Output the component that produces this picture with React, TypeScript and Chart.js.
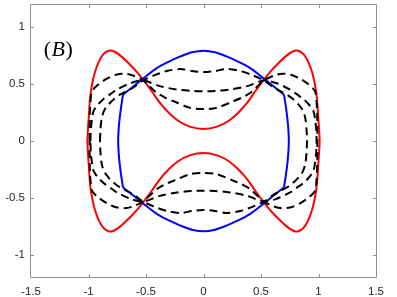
import { useEffect, useRef } from 'react';
import { Chart, registerables } from 'chart.js';

Chart.register(...registerables);

// ---- axes ----
const xTicks = [-1.5, -1, -0.5, 0, 0.5, 1, 1.5];
const yTicks = [-1, -0.5, 0, 0.5, 1];
const xMin = -1.5;
const xMax = 1.5;
const yMin = -1.19;
const yMax = 1.19;
const panelLabelOpen = '(';
const panelLabelLetter = 'B';
const panelLabelClose = ')';

// ---- red curve (closed) ----
const redUpperX = [-1.01, -1.005, -0.995, -0.985, -0.968, -0.945, -0.91, -0.87, -0.825, -0.78, -0.72, -0.64, -0.58, -0.52, -0.45, -0.38, -0.3, -0.22, -0.12, 0, 0.12, 0.22, 0.3, 0.38, 0.45, 0.52, 0.58, 0.64, 0.72, 0.78, 0.825, 0.87, 0.91, 0.945, 0.968, 0.985, 0.995, 1.005, 1.01];
const redUpperY = [0, 0.1, 0.25, 0.39, 0.5, 0.6, 0.695, 0.76, 0.79, 0.785, 0.745, 0.67, 0.605, 0.53, 0.435, 0.335, 0.245, 0.177, 0.126, 0.105, 0.126, 0.177, 0.245, 0.335, 0.435, 0.53, 0.605, 0.67, 0.745, 0.785, 0.79, 0.76, 0.695, 0.6, 0.5, 0.39, 0.25, 0.1, 0];
const redLowerX = [1.005, 0.995, 0.985, 0.968, 0.945, 0.91, 0.87, 0.825, 0.78, 0.72, 0.64, 0.58, 0.52, 0.45, 0.38, 0.3, 0.22, 0.12, 0, -0.12, -0.22, -0.3, -0.38, -0.45, -0.52, -0.58, -0.64, -0.72, -0.78, -0.825, -0.87, -0.91, -0.945, -0.968, -0.985, -0.995, -1.005, -1.01];
const redLowerY = [-0.1, -0.25, -0.39, -0.5, -0.6, -0.695, -0.76, -0.79, -0.785, -0.745, -0.67, -0.605, -0.53, -0.435, -0.335, -0.245, -0.177, -0.126, -0.105, -0.126, -0.177, -0.245, -0.335, -0.435, -0.53, -0.605, -0.67, -0.745, -0.785, -0.79, -0.76, -0.695, -0.6, -0.5, -0.39, -0.25, -0.1, 0];

// ---- blue curve (four smooth pieces meeting at corners) ----
const blueTopX = [-0.7, -0.6, -0.5, -0.4, -0.3, -0.2, -0.1, 0, 0.1, 0.2, 0.3, 0.4, 0.5, 0.6, 0.7];
const blueTopY = [0.406, 0.485, 0.567, 0.642, 0.695, 0.74, 0.776, 0.79, 0.776, 0.74, 0.695, 0.642, 0.567, 0.485, 0.406];
const blueBottomX = [-0.7, -0.6, -0.5, -0.4, -0.3, -0.2, -0.1, 0, 0.1, 0.2, 0.3, 0.4, 0.5, 0.6, 0.7];
const blueBottomY = [-0.406, -0.485, -0.567, -0.642, -0.695, -0.74, -0.776, -0.79, -0.776, -0.74, -0.695, -0.642, -0.567, -0.485, -0.406];
const blueRightX = [0.7, 0.716, 0.729, 0.738, 0.742, 0.738, 0.729, 0.716, 0.7];
const blueRightY = [0.406, 0.3, 0.2, 0.1, 0, -0.1, -0.2, -0.3, -0.406];
const blueLeftX = [-0.7, -0.716, -0.729, -0.738, -0.742, -0.738, -0.729, -0.716, -0.7];
const blueLeftY = [0.406, 0.3, 0.2, 0.1, 0, -0.1, -0.2, -0.3, -0.406];

// ---- dashed curve 1 (nearest blue) ----
const dash1UpperX = [-0.9, -0.896, -0.885, -0.862, -0.825, -0.775, -0.73, -0.66, -0.6, -0.525, -0.435, -0.32, -0.2, -0.1, 0, 0.1, 0.2, 0.32, 0.435, 0.525, 0.6, 0.66, 0.73, 0.775, 0.825, 0.862, 0.885, 0.896, 0.9];
const dash1UpperY = [0, 0.1, 0.2, 0.27, 0.32, 0.37, 0.403, 0.44, 0.475, 0.53, 0.572, 0.612, 0.63, 0.612, 0.603, 0.612, 0.63, 0.612, 0.572, 0.53, 0.475, 0.44, 0.403, 0.37, 0.32, 0.27, 0.2, 0.1, 0];
const dash1LowerX = [0.896, 0.885, 0.862, 0.825, 0.775, 0.73, 0.66, 0.6, 0.525, 0.435, 0.32, 0.2, 0.1, 0, -0.1, -0.2, -0.32, -0.435, -0.525, -0.6, -0.66, -0.73, -0.775, -0.825, -0.862, -0.885, -0.896, -0.9];
const dash1LowerY = [-0.1, -0.2, -0.27, -0.32, -0.37, -0.403, -0.44, -0.475, -0.53, -0.572, -0.612, -0.63, -0.612, -0.603, -0.612, -0.63, -0.612, -0.572, -0.53, -0.475, -0.44, -0.403, -0.37, -0.32, -0.27, -0.2, -0.1, 0];

// ---- dashed curve 2 (middle) ----
const dash2UpperX = [-0.983, -0.98, -0.972, -0.956, -0.92, -0.869, -0.81, -0.753, -0.637, -0.525, -0.38, -0.23, -0.1, 0, 0.1, 0.23, 0.38, 0.525, 0.637, 0.753, 0.81, 0.869, 0.92, 0.956, 0.972, 0.98, 0.983];
const dash2UpperY = [0, 0.1, 0.175, 0.262, 0.315, 0.368, 0.41, 0.45, 0.505, 0.53, 0.48, 0.45, 0.438, 0.435, 0.438, 0.45, 0.48, 0.53, 0.505, 0.45, 0.41, 0.368, 0.315, 0.262, 0.175, 0.1, 0];
const dash2LowerX = [0.98, 0.972, 0.956, 0.92, 0.869, 0.81, 0.753, 0.637, 0.525, 0.38, 0.23, 0.1, 0, -0.1, -0.23, -0.38, -0.525, -0.637, -0.753, -0.81, -0.869, -0.92, -0.956, -0.972, -0.98, -0.983];
const dash2LowerY = [-0.1, -0.175, -0.262, -0.315, -0.368, -0.41, -0.45, -0.505, -0.53, -0.48, -0.45, -0.438, -0.435, -0.438, -0.45, -0.48, -0.53, -0.505, -0.45, -0.41, -0.368, -0.315, -0.262, -0.175, -0.1, 0];

// ---- dashed curve 3 (nearest red) ----
const dash3UpperX = [-0.99, -0.99, -0.988, -0.982, -0.97, -0.92, -0.84, -0.76, -0.69, -0.62, -0.525, -0.465, -0.405, -0.33, -0.26, -0.115, 0, 0.115, 0.26, 0.33, 0.405, 0.465, 0.525, 0.62, 0.69, 0.76, 0.84, 0.92, 0.97, 0.982, 0.988, 0.99, 0.99];
const dash3UpperY = [0, 0.1, 0.25, 0.35, 0.435, 0.49, 0.545, 0.58, 0.589, 0.575, 0.53, 0.475, 0.42, 0.378, 0.348, 0.29, 0.28, 0.29, 0.348, 0.378, 0.42, 0.475, 0.53, 0.575, 0.589, 0.58, 0.545, 0.49, 0.435, 0.35, 0.25, 0.1, 0];
const dash3LowerX = [0.99, 0.988, 0.982, 0.97, 0.92, 0.84, 0.76, 0.69, 0.62, 0.525, 0.465, 0.405, 0.33, 0.26, 0.115, 0, -0.115, -0.26, -0.33, -0.405, -0.465, -0.525, -0.62, -0.69, -0.76, -0.84, -0.92, -0.97, -0.982, -0.988, -0.99, -0.99];
const dash3LowerY = [-0.1, -0.25, -0.35, -0.435, -0.49, -0.545, -0.58, -0.589, -0.575, -0.53, -0.475, -0.42, -0.378, -0.348, -0.29, -0.28, -0.29, -0.348, -0.378, -0.42, -0.475, -0.53, -0.575, -0.589, -0.58, -0.545, -0.49, -0.435, -0.35, -0.25, -0.1, 0];

const pts = (xs: number[], ys: number[]) => xs.map((x, i) => ({ x, y: ys[i] }));

const W = 397;
const H = 297;

const framePlugin = {
  id: 'matlabFrame',
  afterDraw(chart: any) {
    const { ctx, chartArea: a, scales } = chart;
    const xs = scales.x;
    const ys = scales.y;
    const L = Math.round(a.left) - 0.5;
    const R = Math.round(a.right) + 0.5;
    const T = Math.round(a.top) - 0.5;
    const B = Math.round(a.bottom) + 0.5;
    ctx.save();
    ctx.strokeStyle = '#8f8f8f';
    ctx.lineWidth = 1;
    ctx.beginPath();
    ctx.rect(L, T, R - L, B - T);
    ctx.stroke();
    const tl = 3.5;
    ctx.beginPath();
    xTicks.forEach((v) => {
      const p = Math.round(xs.getPixelForValue(v)) + 0.5;
      if (p <= L + 1 || p >= R - 1) return;
      ctx.moveTo(p, B);
      ctx.lineTo(p, B - tl);
      ctx.moveTo(p, T);
      ctx.lineTo(p, T + tl);
    });
    yTicks.forEach((v) => {
      const p = Math.round(ys.getPixelForValue(v)) + 0.5;
      if (p <= T + 1 || p >= B - 1) return;
      ctx.moveTo(L, p);
      ctx.lineTo(L + tl, p);
      ctx.moveTo(R, p);
      ctx.lineTo(R - tl, p);
    });
    ctx.stroke();

    // panel label "(B)"
    const lx = xs.getPixelForValue(-1.39);
    const ly = ys.getPixelForValue(0.74);
    ctx.fillStyle = '#000';
    ctx.textBaseline = 'alphabetic';
    ctx.textAlign = 'left';
    const up = '22px "Liberation Serif", "Times New Roman", serif';
    const it = 'italic 22px "Liberation Serif", "Times New Roman", serif';
    let x = lx;
    ctx.font = up;
    ctx.fillText(panelLabelOpen, x, ly);
    x += ctx.measureText(panelLabelOpen).width + 0.5;
    ctx.font = it;
    ctx.fillText(panelLabelLetter, x, ly);
    x += ctx.measureText(panelLabelLetter).width + 0.5;
    ctx.font = up;
    ctx.fillText(panelLabelClose, x, ly);
    ctx.restore();
  },
};

const zeroPad = (s: any) => {
  s.paddingTop = 0;
  s.paddingBottom = 0;
  s.paddingLeft = 0;
  s.paddingRight = 0;
};

export default function App() {
  const ref = useRef<HTMLCanvasElement | null>(null);

  useEffect(() => {
    if (!ref.current) return;
    const dashStyle = {
      borderColor: '#000000',
      borderWidth: 2,
      borderDash: [8, 5],
      showLine: true,
      pointRadius: 0,
      tension: 0.3,
      fill: false,
    };
    const solid = (color: string) => ({
      borderColor: color,
      borderWidth: 2,
      showLine: true,
      pointRadius: 0,
      tension: 0.3,
      fill: false,
    });
    const chart = new Chart(ref.current, {
      type: 'scatter',
      data: {
        datasets: [
          { ...dashStyle, data: pts([...dash1UpperX, ...dash1LowerX], [...dash1UpperY, ...dash1LowerY]) },
          { ...dashStyle, data: pts([...dash2UpperX, ...dash2LowerX], [...dash2UpperY, ...dash2LowerY]) },
          { ...dashStyle, data: pts([...dash3UpperX, ...dash3LowerX], [...dash3UpperY, ...dash3LowerY]) },
          { ...solid('#0000ff'), data: pts(blueTopX, blueTopY) },
          { ...solid('#0000ff'), data: pts(blueBottomX, blueBottomY) },
          { ...solid('#0000ff'), data: pts(blueRightX, blueRightY) },
          { ...solid('#0000ff'), data: pts(blueLeftX, blueLeftY) },
          { ...solid('#ff0000'), data: pts([...redUpperX, ...redLowerX], [...redUpperY, ...redLowerY]) },
        ] as any,
      },
      options: {
        animation: false,
        responsive: false,
        maintainAspectRatio: false,
        events: [],
        layout: { padding: { top: 5, right: 21, left: 0, bottom: 0 } },
        plugins: { legend: { display: false }, tooltip: { enabled: false } },
        scales: {
          x: {
            type: 'linear',
            min: xMin,
            max: xMax,
            grid: { display: false, drawTicks: false },
            border: { display: false },
            afterBuildTicks: (s: any) => {
              s.ticks = xTicks.map((v) => ({ value: v }));
            },
            afterFit: (s: any) => {
              s.height = 20;
              zeroPad(s);
            },
            ticks: {
              padding: 8,
              color: '#262626',
              font: { family: '"Liberation Sans", Arial, sans-serif', size: 11.5 },
              maxRotation: 0,
              callback: (v: number) => String(v),
            },
          },
          y: {
            type: 'linear',
            min: yMin,
            max: yMax,
            grid: { display: false, drawTicks: false },
            border: { display: false },
            afterBuildTicks: (s: any) => {
              s.ticks = yTicks.map((v) => ({ value: v }));
            },
            afterFit: (s: any) => {
              s.width = 31;
              zeroPad(s);
            },
            ticks: {
              padding: 6,
              color: '#262626',
              font: { family: '"Liberation Sans", Arial, sans-serif', size: 11.5 },
              callback: (v: number) => String(v),
            },
          },
        },
      } as any,
      plugins: [framePlugin],
    });
    return () => chart.destroy();
  }, []);

  return (
    <div style={{ position: 'fixed', left: 0, top: 0, width: W, height: H, background: '#fff' }}>
      <canvas ref={ref} width={W} height={H} style={{ width: W, height: H, display: 'block' }} />
    </div>
  );
}
